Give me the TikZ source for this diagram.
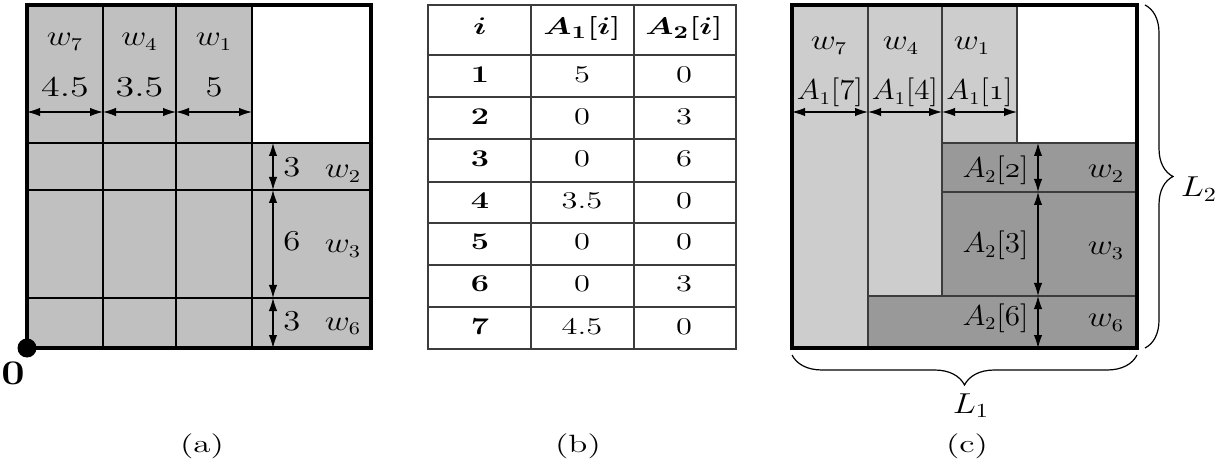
\documentclass[tikz,border=0pt]{standalone}
\usepackage{amsmath,bm}
\usetikzlibrary{arrows.meta,decorations.pathreplacing}

\definecolor{cellA}{RGB}{192,192,192}
\definecolor{lightC}{RGB}{205,205,205}
\definecolor{darkC}{RGB}{153,153,153}
\definecolor{ruleC}{RGB}{60,60,60}

\begin{document}
\begin{tikzpicture}[x=0.5pt,y=-0.5pt,
  thinline/.style={line width=0.55pt},
  frame/.style={line width=1.7pt},
  dim/.style={line width=0.55pt,{Latex[length=6.5pt,width=4.2pt]}-{Latex[length=6.5pt,width=4.2pt]}},
  lab/.style={font=\fontsize{13.5}{16}\selectfont, inner sep=0pt, anchor=base, xscale=1.2},
  alab/.style={lab, xscale=0.9},
  tab/.style={font=\fontsize{12.5}{15}\selectfont, inner sep=0pt, anchor=base, xscale=1.35},
  captext/.style={font=\fontsize{12.5}{15}\selectfont, inner sep=0pt, anchor=base, xscale=1.4},
  curly/.style={decorate, decoration={brace, amplitude=#1}, line width=0.6pt}]

\useasboundingbox (0,0) rectangle (1229,464);

% ---------------- (a) strip packing grid ----------------
\fill[cellA] (27,5) rectangle (252,348);
\fill[cellA] (252,143) rectangle (371,348);
\foreach \x in {103,176,252} \draw[thinline] (\x,5) -- (\x,348);
\foreach \y in {143,190,298} \draw[thinline] (27,\y) -- (371,\y);
\draw[frame] (27,5) rectangle (371,348);

\draw[dim] (27,112) -- (103,112);
\draw[dim] (103,112) -- (176,112);
\draw[dim] (176,112) -- (252,112);
\draw[dim] (273,143) -- (273,190);
\draw[dim] (273,190) -- (273,298);
\draw[dim] (273,298) -- (273,348);

\node[lab] (aw7) at (65,46) {$w_7$};
\node[lab] (aw4) at (139.5,46) {$w_4$};
\node[lab] (aw1) at (214,46) {$w_1$};
\node[lab, xscale=1.1] (av7) at (65,97) {$4.5$};
\node[lab, xscale=1.1] (av4) at (139.5,97) {$3.5$};
\node[lab] (av1) at (214,97) {$5$};
\node[lab, anchor=base west] (av2) at (283,177) {$3$};
\node[lab, anchor=base west] (av3) at (283,251) {$6$};
\node[lab, anchor=base west] (av6) at (283,330) {$3$};
\node[lab] (aw2) at (343,178) {$w_2$};
\node[lab] (aw3) at (343,253) {$w_3$};
\node[lab] (aw6) at (343,330) {$w_6$};

\node[circle, fill=black, minimum size=9.5pt, inner sep=0pt] (orig) at (27,348) {};
\node[lab, font=\fontsize{17}{20}\selectfont, anchor=center] (origlab) at (13,373) {$\mathbf{0}$};

\node[captext] (capa) at (202,452) {(a)};

% ---------------- (b) table of A_1 and A_2 ----------------
\draw[ruleC, line width=0.6pt] (428,5) rectangle (736,349);
\foreach \x in {531,634} \draw[ruleC, line width=0.6pt] (\x,5) -- (\x,349);
\foreach \y in {55,97,139,182,223,265,307} \draw[ruleC, line width=0.6pt] (428,\y) -- (736,\y);

\node[tab] (hi) at (480,35) {$\bm{i}$};
\node[tab] (ha1) at (582,35) {$\bm{A_1[i]}$};
\node[tab] (ha2) at (684,35) {$\bm{A_2[i]}$};

\foreach \r/\yy/\va/\vb in {1/83/5/0, 2/125/0/3, 3/167/0/6, 4/209/3.5/0, 5/250/0/0, 6/292/0/3, 7/334/4.5/0} {
  \node[tab] (ri\r) at (480,\yy) {$\mathbf{\r}$};
  \node[tab] (ra\r) at (582,\yy) {$\va$};
  \node[tab] (rb\r) at (684,\yy) {$\vb$};
}

\node[captext] (capb) at (578,452) {(b)};

% ---------------- (c) packing with bounds ----------------
\fill[lightC] (792,5) rectangle (868,348);
\fill[lightC] (868,5) rectangle (942,296);
\fill[lightC] (942,5) rectangle (1017,143);
\fill[darkC] (942,143) rectangle (1137,192);
\fill[darkC] (942,192) rectangle (1137,296);
\fill[darkC] (868,296) rectangle (1137,348);
\draw[thinline, ruleC] (792,5) rectangle (868,348);
\draw[thinline, ruleC] (868,5) rectangle (942,296);
\draw[thinline, ruleC] (942,5) rectangle (1017,143);
\draw[thinline, ruleC] (942,143) rectangle (1137,192);
\draw[thinline, ruleC] (942,192) rectangle (1137,296);
\draw[thinline, ruleC] (868,296) rectangle (1137,348);
\draw[frame] (792,5) rectangle (1137,348);

\draw[dim] (792,112) -- (868,112);
\draw[dim] (868,112) -- (942,112);
\draw[dim] (942,112) -- (1017,112);
\draw[dim] (1038,143) -- (1038,192);
\draw[dim] (1038,192) -- (1038,296);
\draw[dim] (1038,296) -- (1038,348);

\node[lab] (cw7) at (829,50) {$w_7$};
\node[lab] (cw4) at (901,50) {$w_4$};
\node[lab] (cw1) at (972,50) {$w_1$};
\node[alab] (ca7) at (830,100) {$A_1[7]$};
\node[alab] (ca4) at (905,100) {$A_1[4]$};
\node[alab] (ca1) at (979.5,100) {$A_1[\oldstylenums{1}]$};
\node[alab, anchor=base east] (cb2) at (1029,178) {$A_2[\oldstylenums{2}]$};
\node[alab, anchor=base east] (cb3) at (1029,253) {$A_2[3]$};
\node[alab, anchor=base east] (cb6) at (1029,325) {$A_2[6]$};
\node[lab] (cw2) at (1106,178) {$w_2$};
\node[lab] (cw3) at (1106,255) {$w_3$};
\node[lab] (cw6) at (1106,327) {$w_6$};

\coordinate (btop) at (1145,5);
\coordinate (bbot) at (1145,348);
\coordinate (bright) at (1137,355);
\coordinate (bleft) at (792,355);
\draw[curly=14pt] (btop) -- (bbot);
\draw[curly=15pt] (bright) -- (bleft);
\node[lab, font=\fontsize{14}{17}\selectfont] (L2) at (1199,197) {$L_2$};
\node[lab, font=\fontsize{14}{17}\selectfont] (L1) at (971,413) {$L_1$};

\node[captext] (capc) at (967,452) {(c)};
\end{tikzpicture}
\end{document}
